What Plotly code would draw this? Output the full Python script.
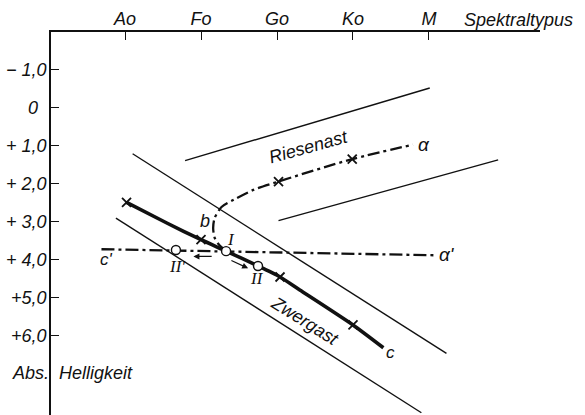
import plotly.graph_objects as go

# Spectral classes along the top axis and absolute magnitudes on the left axis
spectral_types = ["Ao", "Fo", "Go", "Ko", "M"]
spectral_pos = [0, 1, 2, 3, 4]
mag_ticks = [-1, 0, 1, 2, 3, 4, 5, 6]
mag_labels = ["\u2212 1,0", "0\u2008\u2009", "+ 1,0", "+ 2,0", "+ 3,0", "+ 4,0", "+5,0", "+6,0"]

# Dwarf branch (curve c)
c_x = [0.02, 0.55, 1.00, 1.33, 1.75, 2.04, 2.30, 3.00, 3.40]
c_y = [2.49, 3.03, 3.47, 3.77, 4.16, 4.45, 4.79, 5.71, 6.31]
c_cross_x = [0.02, 1.00, 2.04, 3.00]
c_cross_y = [2.49, 3.47, 4.45, 5.71]

# Curve b leading from point I into the giant branch (curve a)
ab_x = [1.33, 1.24, 1.18, 1.16, 1.18, 1.27, 1.43, 1.69, 2.02, 2.99, 3.79]
ab_y = [3.77, 3.61, 3.42, 3.16, 2.90, 2.61, 2.42, 2.16, 1.94, 1.35, 0.97]
a_cross_x = [2.02, 2.99]
a_cross_y = [1.94, 1.35]

# Line c' - a'
cp_x = [-0.31, 4.10]
cp_y = [3.72, 3.88]

# Boundaries of the giant and dwarf branches
giant_upper_x = [0.79, 4.01]
giant_upper_y = [1.39, -0.52]
giant_lower_x = [2.02, 4.91]
giant_lower_y = [2.97, 1.37]
dwarf_upper_x = [0.10, 4.23]
dwarf_upper_y = [1.21, 6.46]
dwarf_lower_x = [-0.12, 3.90]
dwarf_lower_y = [2.90, 8.02]

# Positions I, II', II
pts_x = [1.33, 0.67, 1.75]
pts_y = [3.77, 3.74, 4.16]

FONT = "Liberation Sans"
SERIF = "Liberation Serif"
INK = "#111111"

fig = go.Figure()

for xs, ys in [(giant_upper_x, giant_upper_y), (giant_lower_x, giant_lower_y),
               (dwarf_upper_x, dwarf_upper_y), (dwarf_lower_x, dwarf_lower_y)]:
    fig.add_trace(go.Scatter(x=xs, y=ys, mode="lines",
                             line=dict(color=INK, width=1.4), hoverinfo="skip"))

fig.add_trace(go.Scatter(x=cp_x, y=cp_y, mode="lines",
                         line=dict(color=INK, width=2.3, dash="13px,4px,3px,4px")))
fig.add_trace(go.Scatter(x=ab_x, y=ab_y, mode="lines",
                         line=dict(color=INK, width=2.3, dash="12px,4px,3px,4px",
                                   shape="spline", smoothing=0.8)))
fig.add_trace(go.Scatter(x=c_x, y=c_y, mode="lines",
                         line=dict(color=INK, width=3.6, shape="spline", smoothing=0.6)))

fig.add_trace(go.Scatter(x=c_cross_x + a_cross_x, y=c_cross_y + a_cross_y, mode="markers",
                         marker=dict(symbol="x-thin-open", size=9, color=INK,
                                     line=dict(color=INK, width=1.8))))
fig.add_trace(go.Scatter(x=pts_x, y=pts_y, mode="markers",
                         marker=dict(symbol="circle", size=9, color="white",
                                     line=dict(color=INK, width=1.4))))

def label(x, y, text, size=17, family=FONT, angle=0, xanchor="center", ref="data"):
    xr, yr = ("x", "y") if ref == "data" else ("paper", "paper")
    fig.add_annotation(x=x, y=y, xref=xr, yref=yr, text=text, showarrow=False,
                       textangle=angle, xanchor=xanchor, yanchor="middle",
                       font=dict(family=family, size=size, color=INK, style="italic"))

label(2.41, 1.03, "Riesenast", size=18, angle=-15.5)
label(2.37, 5.60, "Zwergast", size=18, angle=32)
label(3.93, 0.96, "\u03b1", size=19)
label(4.24, 3.86, "\u03b1'", size=19)
label(-0.24, 3.98, "c'", size=17)
label(3.49, 6.44, "c", size=17)
label(1.05, 2.99, "b", size=18)
label(1.39, 3.46, "I", size=17, family=SERIF)
label(0.68, 4.17, "II'", size=17, family=SERIF)
label(1.74, 4.50, "II", size=17, family=SERIF)
label(-0.001, 0.110, "Abs.", size=18, xanchor="right", ref="paper")
label(0.012, 0.110, "Helligkeit", size=18, xanchor="left", ref="paper")
label(0.8405, 1.032, "Spektraltypus", size=18, xanchor="left", ref="paper")

# Displacement arrows from point I
fig.add_annotation(x=0.90, y=3.91, ax=1.16, ay=3.91, xref="x", yref="y", axref="x", ayref="y",
                   showarrow=True, arrowhead=2, arrowsize=1, arrowwidth=1.2, arrowcolor=INK, text="")
fig.add_annotation(x=1.62, y=4.22, ax=1.38, ay=4.00, xref="x", yref="y", axref="x", ayref="y",
                   showarrow=True, arrowhead=2, arrowsize=1, arrowwidth=1.2, arrowcolor=INK, text="")

tickfont = dict(family=FONT, size=18, color=INK, style="italic")
fig.update_xaxes(range=[-0.974, 5.461], side="top", tickvals=spectral_pos, ticktext=spectral_types,
                 ticks="inside", ticklen=8, tickwidth=1.3, tickcolor=INK, ticklabelstandoff=-2,
                 showline=True, linewidth=1.5, linecolor=INK,
                 showgrid=False, zeroline=False, tickfont=tickfont)
fig.update_yaxes(range=[8.079, -1.992], tickvals=mag_ticks, ticktext=mag_labels,
                 ticks="inside", ticklen=8, tickwidth=1.3, tickcolor=INK, ticklabelstandoff=-1,
                 showline=True, linewidth=1.5, linecolor=INK,
                 showgrid=False, zeroline=False, tickfont=tickfont)

fig.update_layout(width=585, height=415, margin=dict(l=51, r=45, t=32, b=0),
                  paper_bgcolor="white", plot_bgcolor="white", showlegend=False)

fig.write_html("out.html")
